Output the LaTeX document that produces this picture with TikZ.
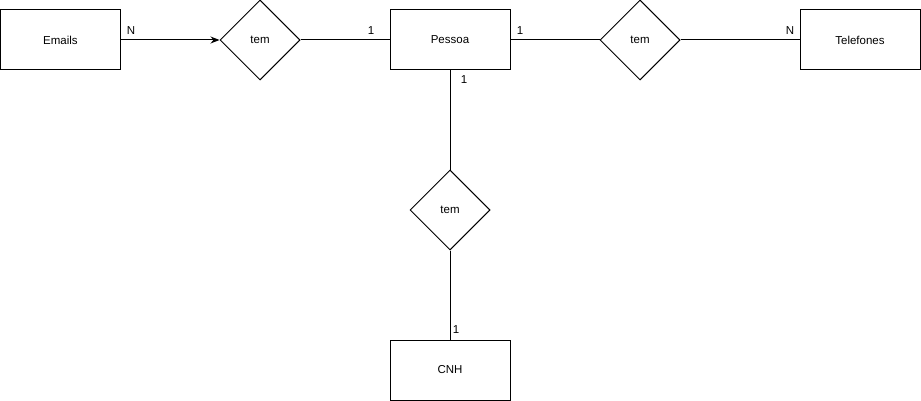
\documentclass[tikz,border=0pt]{standalone}
\usepackage{fontspec}
\setmainfont{Liberation Sans}
\usetikzlibrary{shapes.geometric,arrows.meta}
\begin{document}
\begin{tikzpicture}[x=1pt,y=-1pt,
  ent/.style={draw,line width=1pt,minimum width=120pt,minimum height=60pt,inner sep=0pt,font=\fontsize{11.5}{13}\selectfont},
  rel/.style={draw,diamond,line width=1pt,minimum width=80pt,minimum height=80pt,inner sep=0pt,aspect=1,font=\fontsize{11.5}{13}\selectfont},
  lnk/.style={line width=1pt},
  card/.style={font=\fontsize{11.5}{13}\selectfont,inner sep=0pt}]
\useasboundingbox (0,0) rectangle (921,401);
\node[ent] (emails) at (60.5,40) {Emails};
\node[rel] (tem1) at (260,40) {tem};
\node[ent] (pessoa) at (450,40) {Pessoa};
\node[rel] (tem2) at (640,40) {tem};
\node[ent] (tel) at (860,40) {Telefones};
\node[rel] (tem3) at (450,210) {tem};
\node[ent] (cnh) at (450,370) {CNH};
\draw[lnk,-{Stealth[length=9pt,width=7pt]}] (emails) -- (tem1);
\draw[lnk] (tem1) -- (pessoa);
\draw[lnk] (pessoa) -- (tem2);
\draw[lnk] (tem2) -- (tel);
\draw[lnk] (pessoa) -- (tem3);
\draw[lnk] (tem3) -- (cnh);
\node[card] (n1) at (131,31) {N};
\node[card] (o1) at (371,31) {1};
\node[card] (o2) at (520,31) {1};
\node[card] (n2) at (790,31) {N};
\node[card] (o3) at (464,80) {1};
\node[card] (o4) at (456,330) {1};
\end{tikzpicture}
\end{document}
